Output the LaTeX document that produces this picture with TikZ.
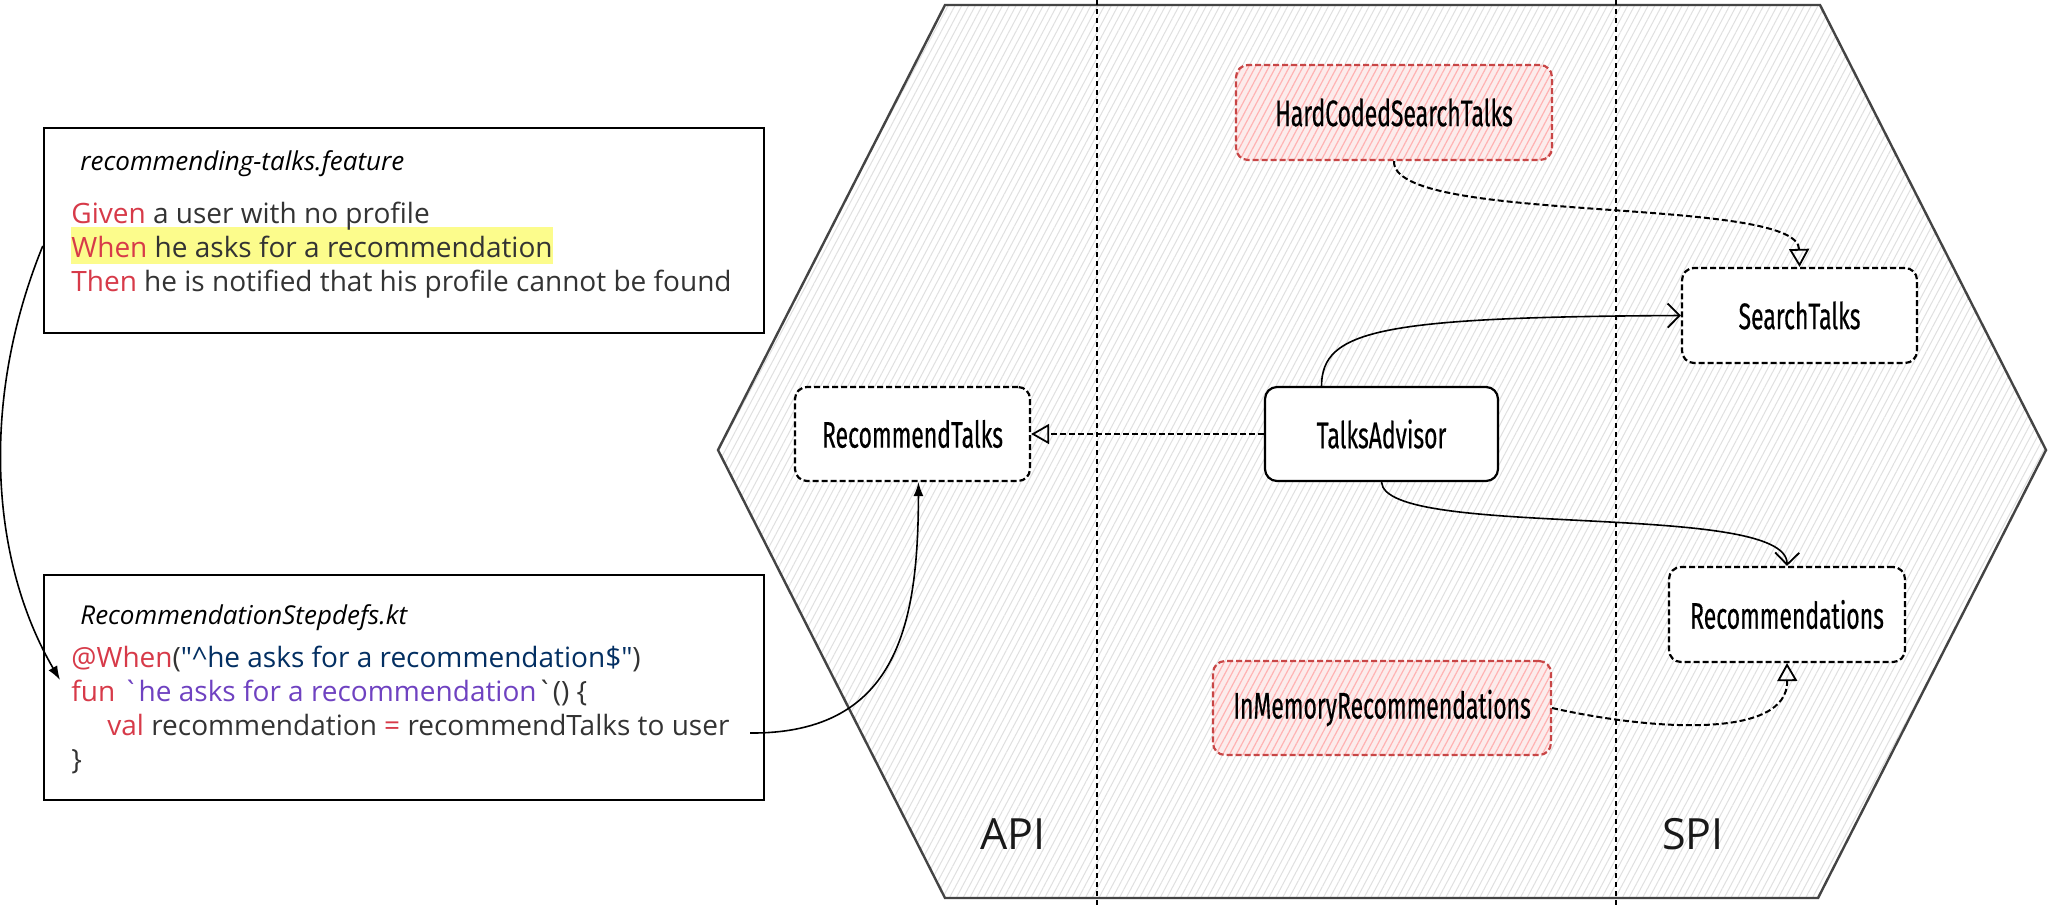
\documentclass[tikz,border=0pt]{standalone}
\usepackage{fontspec}
\setmainfont{Open Sans}
\newfontfamily\codefont{Open Sans}[Ligatures=TeXOff]
\newfontfamily\nodefont[FakeStretch=0.62,FakeBold=0.4]{Fira Sans}
\usetikzlibrary{arrows.meta,patterns.meta}
\definecolor{kw}{HTML}{D73A49}
\definecolor{strc}{HTML}{032F62}
\definecolor{fnc}{HTML}{6F42C1}
\definecolor{txt}{HTML}{333333}
\definecolor{hly}{RGB}{252,252,140}
\definecolor{redb}{RGB}{200,70,70}
\definecolor{pinkf}{RGB}{252,236,236}
\definecolor{hexb}{HTML}{444444}
\tikzset{
  comp/.style={draw=black, line width=1.1pt, rounded corners=6pt, fill=white,
    font=\nodefont\fontsize{18.5pt}{21pt}\selectfont, inner sep=0pt, align=center},
  port/.style={comp, dash pattern=on 3pt off 1.5pt},
  impl/.style={draw=redb, line width=1.1pt, rounded corners=6pt,
    dash pattern=on 3pt off 1.5pt,
    font=\nodefont\fontsize{18.5pt}{21pt}\selectfont, inner sep=0pt, align=center,
    preaction={fill=pinkf},
    preaction={pattern={Lines[angle=62,distance=3pt,line width=0.6pt]}, pattern color=red!30}},
  filebox/.style={draw=black, line width=1.2pt, fill=white, inner sep=0pt},
  body/.style={font=\codefont\fontsize{14pt}{17pt}\selectfont, text=txt, inner sep=0pt, anchor=base west},
  ftitle/.style={font=\codefont\itshape\fontsize{13pt}{15pt}\selectfont, text=black, inner sep=0pt, anchor=base west},
  link/.style={draw=black, line width=0.8pt},
  dlink/.style={draw=black, line width=1pt, dash pattern=on 3pt off 1.5pt},
  sep/.style={draw=black, line width=0.6pt, dash pattern=on 2.5pt off 2pt},
  zone/.style={font=\codefont\fontsize{21.5pt}{25pt}\selectfont, text=black!90, inner sep=0pt},
  opentri/.style={-{Triangle[open,length=9pt,width=10pt,line width=0.9pt]}},
  vtip/.style={-{Straight Barb[length=6pt,width=12pt,line width=0.9pt]}},
  filltip/.style={-{Latex[length=7pt,width=5pt]}}
}
\begin{document}
\begin{tikzpicture}[x=0.5pt,y=-0.5pt]
\useasboundingbox[fill=white] (0,0) rectangle (2048,907);

% hexagon
\draw[hexb, line width=1.2pt, pattern={Lines[angle=62,distance=3pt,line width=0.5pt]}, pattern color=black!12]
  (945,5) -- (1820,5) -- (2046,450) -- (1818,898) -- (945,898) -- (718,450) -- cycle;
\draw[sep] (1097,0) -- (1097,907);
\draw[sep] (1616,0) -- (1616,907);

\node[zone] (api) at (1013,834) {API};
\node[zone] (spi) at (1693,834) {SPI};

% file boxes
\node[filebox, minimum width=360pt, minimum height=102.5pt] (feat) at (404,230.5) {};
\node[fill=hly, inner sep=0pt, minimum width=241pt, minimum height=18.5pt, anchor=north west] (hl) at (71,227) {};
\node[ftitle] (ft) at (80,170) {recommending-talks.feature};
\node[body] (g1) at (71,223) {\textcolor{kw}{Given} a user with no profile};
\node[body] (g2) at (71,257) {\textcolor{kw}{When} he asks for a recommendation};
\node[body] (g3) at (71,291) {\textcolor{kw}{Then} he is notified that his profile cannot be found};

\node[filebox, minimum width=360pt, minimum height=112.5pt] (code) at (404,687.5) {};
\node[ftitle] (ct) at (80,624) {RecommendationStepdefs.kt};
\node[body] (c1) at (71,667) {\textcolor{kw}{@When}(\textcolor{strc}{"\textasciicircum he asks for a recommendation\$"})};
\node[body] (c2) at (71,701) {\textcolor{kw}{fun} \textcolor{fnc}{`he asks for a recommendation}`() \{};
\node[body] (c3) at (107,735) {\textcolor{kw}{val} recommendation \textcolor{kw}{=} recommendTalks to user};
\node[body] (c4) at (71,769) {\}};
\coordinate (userend) at (750,733);
\coordinate (tofun) at (60,680);

% components
\node[port, minimum width=117.5pt, minimum height=47pt] (rt) at (912.5,434) {RecommendTalks};
\node[comp, minimum width=116.5pt, minimum height=47pt] (ta) at (1381.5,434) {TalksAdvisor};
\node[port, minimum width=117.5pt, minimum height=47.5pt] (st) at (1799.5,315.5) {SearchTalks};
\node[port, minimum width=118pt, minimum height=47.5pt] (rec) at (1787,614.5) {Recommendations};
\node[impl, minimum width=158pt, minimum height=47.5pt] (hc) at (1394,112.5) {HardCodedSearchTalks};
\node[impl, minimum width=169pt, minimum height=47pt] (im) at (1382,708) {InMemoryRecommendations};

% connectors
\draw[link, filltip] (feat.west |- hl.center) .. controls (-20,400) and (-10,560) .. (tofun);
\draw[link, filltip] (userend) .. controls (900,734) and (918,620) .. ([xshift=3pt]rt.south);
\draw[dlink, opentri] (ta.west) -- (rt.east);
\draw[link, vtip] ([xshift=-30pt]ta.north) .. controls (1322,330) and (1380,317) .. (st.west);
\draw[link, vtip] (ta.south) .. controls (1385,540) and (1788,500) .. (rec.north);
\draw[dlink, opentri] (hc.south) .. controls (1391,225) and (1798,195) .. (st.north);
\draw[dlink, opentri] (im.east) .. controls (1650,730) and (1788,740) .. (rec.south);
\end{tikzpicture}
\end{document}
